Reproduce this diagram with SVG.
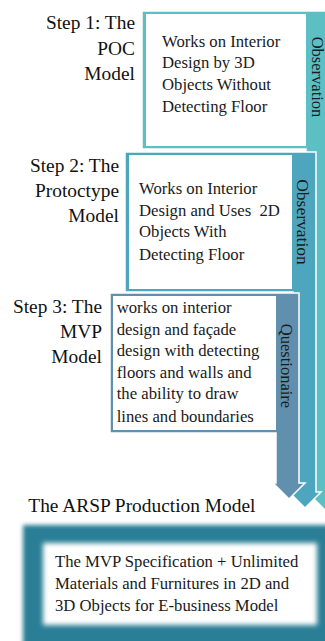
<svg xmlns="http://www.w3.org/2000/svg" width="325" height="641" viewBox="0 0 325 641">
<style>
.lbl{font-family:"Liberation Serif","Times New Roman",serif;font-size:19.4px;fill:#111;text-anchor:end}
.body{font-family:"Liberation Serif","Times New Roman",serif;font-size:16.7px;fill:#1a1a1a}
.vert{font-family:"Liberation Serif","Times New Roman",serif;fill:#1a1a1a;text-anchor:middle}
.arrow{stroke:#fff;stroke-width:1.5;stroke-linejoin:miter}
.box{fill:#fff}
</style>
<defs>
<filter id="blur1" x="-10%" y="-20%" width="120%" height="140%"><feGaussianBlur stdDeviation="2"/></filter>
<filter id="blur2" x="-10%" y="-20%" width="120%" height="140%"><feGaussianBlur stdDeviation="2.5"/></filter>
</defs>
<rect width="325" height="641" fill="#fff"/>
<g id="connectors">
<polygon id="arrow1" class="arrow" fill="#5BBFC4" points="142,11 350,11 350,496 355,496 333,518 311,496 306,496 306,149 142,149"/>
</g>
<g id="node1">
<rect class="box" x="146" y="14" width="160" height="132"/>
<text class="lbl" x="135" y="29">Step 1: The</text>
<text class="lbl" x="135" y="54.5">POC</text>
<text class="lbl" x="135" y="80">Model</text>
<text class="body" x="162" y="46.7">Works on Interior</text>
<text class="body" x="162" y="68.3">Design by 3D</text>
<text class="body" x="162" y="90">Objects Without</text>
<text class="body" x="162" y="112">Detecting Floor</text>
<text class="vert" font-size="16.5" transform="translate(311.5,77) rotate(90)">Observation</text>
</g>
<g id="connectors2">
<polygon id="arrow2" class="arrow" fill="#4EA5BE" points="125,152 316,152 316,492 321,492 305,508 289,492 293,492 293,292 125,292"/>
</g>
<g id="node2">
<rect class="box" x="129" y="155" width="163" height="134"/>
<text class="lbl" x="119" y="171.7">Step 2: The</text>
<text class="lbl" x="119" y="196.7">Protoctype</text>
<text class="lbl" x="119" y="221.7">Model</text>
<text class="body" x="139" y="194">Works on Interior</text>
<text class="body" x="139" y="215.7" xml:space="preserve">Design and Uses  2D</text>
<text class="body" x="139" y="237.3">Objects With</text>
<text class="body" x="139" y="260">Detecting Floor</text>
<text class="vert" font-size="17.5" transform="translate(296.5,222) rotate(90)">Observation</text>
</g>
<g id="connectors3">
<polygon id="arrow3" class="arrow" fill="#6090AD" points="110,293 299,293 299,483 305,483 289,499 273,483 276,483 276,433 110,433"/>
</g>
<g id="node3">
<rect class="box" x="113" y="296" width="163" height="134"/>
<text class="lbl" x="102" y="313.3">Step 3: The</text>
<text class="lbl" x="102" y="337.7">MVP</text>
<text class="lbl" x="102" y="362.7">Model</text>
<text class="body" x="116.7" y="313.3">works on interior</text>
<text class="body" x="116.7" y="335">design and façade</text>
<text class="body" x="116.7" y="356">design with detecting</text>
<text class="body" x="116.7" y="377.5">floors and walls and</text>
<text class="body" x="116.7" y="399">the ability to draw</text>
<text class="body" x="116.7" y="421.5">lines and boundaries</text>
<text class="vert" font-size="16.5" transform="translate(280.5,366) rotate(90)">Questionaire</text>
</g>
<g id="node4">
<text class="lbl" style="text-anchor:start" x="28.3" y="512">The ARSP Production Model</text>
<rect x="23" y="525" width="310" height="125" fill="#2B7E95" filter="url(#blur1)"/>
<rect x="43" y="543" width="274" height="82" fill="#fff" filter="url(#blur2)"/>
<text class="body" x="55" y="566.5">The MVP Specification + Unlimited</text>
<text class="body" x="55" y="589">Materials and Furnitures in 2D and</text>
<text class="body" x="55" y="611">3D Objects for E-business Model</text>
</g>
</svg>
